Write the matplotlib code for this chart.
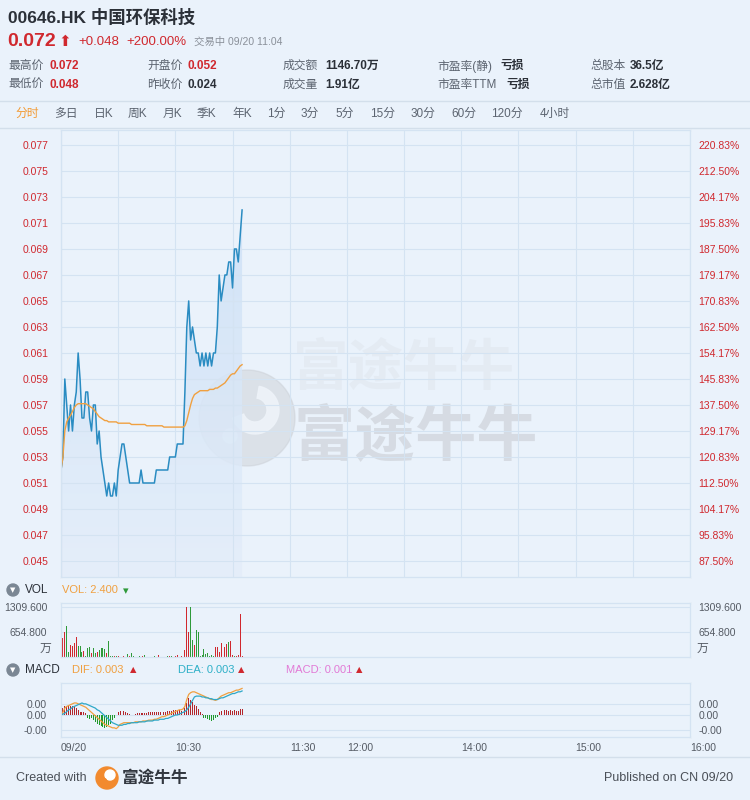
import numpy as np
import matplotlib
matplotlib.use('Agg')
import matplotlib.pyplot as plt
from matplotlib.colors import LinearSegmentedColormap
from matplotlib.patches import Circle, Wedge
from matplotlib.lines import Line2D

plt.rcParams['font.family'] = ['Liberation Sans', 'Noto Sans CJK SC', 'DejaVu Sans']

# ---- data (one value per trading minute from 09:30) ----
prev_close = 0.024

price = [0.052, 0.053, 0.059, 0.057, 0.055, 0.057, 0.055, 0.057, 0.058, 0.061,
         0.059, 0.056, 0.056, 0.058, 0.058, 0.056, 0.055, 0.057, 0.057, 0.054,
         0.055, 0.053, 0.052, 0.051, 0.050, 0.051, 0.050, 0.050, 0.051, 0.050,
         0.052, 0.053, 0.054, 0.054, 0.053, 0.052, 0.051, 0.051, 0.051, 0.051,
         0.051, 0.051, 0.052, 0.051, 0.051, 0.051, 0.051, 0.051, 0.051, 0.051,
         0.052, 0.052, 0.052, 0.052, 0.052, 0.052, 0.052, 0.053, 0.053, 0.053,
         0.053, 0.054, 0.054, 0.054, 0.054, 0.058, 0.063, 0.065, 0.062, 0.063,
         0.062, 0.061, 0.061, 0.060, 0.061, 0.060, 0.061, 0.060, 0.061, 0.060,
         0.061, 0.061, 0.063, 0.067, 0.065, 0.066, 0.067, 0.067, 0.068, 0.068,
         0.066, 0.069, 0.069, 0.068, 0.070, 0.072]

avg_price = [0.0520, 0.0530, 0.0550, 0.0557, 0.0560, 0.0562, 0.0565, 0.0568, 0.0570, 0.0571,
             0.0571, 0.0571, 0.0571, 0.0571, 0.0570, 0.0569, 0.0568, 0.0567, 0.0565, 0.0563,
             0.0561, 0.0560, 0.0559, 0.0558, 0.0558, 0.0557, 0.0557, 0.0557, 0.0557, 0.0557,
             0.0556, 0.0556, 0.0556, 0.0556, 0.0556, 0.0556, 0.0556, 0.0555, 0.0555, 0.0555,
             0.0555, 0.0555, 0.0555, 0.0555, 0.0555, 0.0554, 0.0554, 0.0554, 0.0554, 0.0554,
             0.0554, 0.0554, 0.0554, 0.0554, 0.0553, 0.0553, 0.0553, 0.0553, 0.0553, 0.0553,
             0.0553, 0.0553, 0.0553, 0.0553, 0.0553, 0.0554, 0.0558, 0.0564, 0.0570, 0.0575,
             0.0578, 0.0579, 0.0580, 0.0581, 0.0581, 0.0581, 0.0581, 0.0581, 0.0582, 0.0582,
             0.0582, 0.0583, 0.0583, 0.0584, 0.0585, 0.0586, 0.0587, 0.0589, 0.0591, 0.0593,
             0.0594, 0.0594, 0.0596, 0.0598, 0.0600, 0.0601]

# volume in 万
volume = [200, 490, 663, 812, 140, 314, 300, 358, 515, 288,
          288, 140, 166, 20, 227, 270, 96, 227, 113, 140,
          183, 227, 227, 200, 96, 419, 30, 25, 20, 30,
          15, 10, 20, 15, 10, 70, 15, 100, 20, 10,
          10, 20, 10, 15, 40, 10, 5, 10, 5, 15,
          10, 60, 10, 5, 10, 5, 15, 30, 20, 10,
          15, 40, 10, 20, 60, 183, 1300, 663, 1309.6, 445,
          314, 707, 663, 30, 40, 200, 80, 100, 20, 60,
          30, 270, 270, 140, 358, 428, 270, 340, 400, 428,
          40, 20, 30, 40, 1126, 30]
vol_dir = list("rrrggrrrrg" "ggrgggrggr" "ggggrgggrg" "rrrrggrggg" "rgrrggrgrg"
               "grrgrrgrgr" "rrgrrrrrgg" "rggggggggg" "grrrrgrrgr" "rgrrrr")

dif = [0.0000, 0.0003, 0.0008, 0.0010, 0.0011, 0.0012, 0.0013, 0.0014, 0.0014, 0.0013,
       0.0012, 0.0011, 0.0010, 0.0009, 0.0007, 0.0005, 0.0003, 0.0001, -0.0001, -0.0003,
       -0.0005, -0.0007, -0.0009, -0.0011, -0.0012, -0.0013, -0.0014, -0.0015, -0.0015, -0.0016,
       -0.0014, -0.0011, -0.0010, -0.0009, -0.0009, -0.0009, -0.0009, -0.0009, -0.0009, -0.0008,
       -0.0008, -0.0008, -0.0008, -0.0007, -0.0007, -0.0007, -0.0006, -0.0006, -0.0006, -0.0005,
       -0.0005, -0.0004, -0.0003, -0.0002, -0.0002, -0.0001, 0.0000, 0.0001, 0.0002, 0.0003,
       0.0004, 0.0005, 0.0006, 0.0006, 0.0007, 0.0010, 0.0018, 0.0024, 0.0026, 0.0027,
       0.0027, 0.0026, 0.0025, 0.0024, 0.0023, 0.0022, 0.0021, 0.0020, 0.0019, 0.0018,
       0.0018, 0.0017, 0.0018, 0.0020, 0.0022, 0.0023, 0.0024, 0.0025, 0.0026, 0.0026,
       0.0027, 0.0028, 0.0029, 0.0029, 0.0030, 0.0031]

dea = [0.0000, 0.0001, 0.0002, 0.0004, 0.0006, 0.0007, 0.0009, 0.0010, 0.0011, 0.0012,
       0.0013, 0.0014, 0.0013, 0.0013, 0.0012, 0.0011, 0.0010, 0.0009, 0.0008, 0.0006,
       0.0005, 0.0003, 0.0001, -0.0001, -0.0003, -0.0005, -0.0007, -0.0009, -0.0010, -0.0011,
       -0.0012, -0.0012, -0.0012, -0.0011, -0.0011, -0.0010, -0.0010, -0.0009, -0.0009, -0.0009,
       -0.0009, -0.0008, -0.0008, -0.0008, -0.0008, -0.0007, -0.0007, -0.0007, -0.0007, -0.0006,
       -0.0006, -0.0006, -0.0005, -0.0005, -0.0005, -0.0004, -0.0004, -0.0003, -0.0002, -0.0001,
       0.0000, 0.0000, 0.0001, 0.0002, 0.0003, 0.0004, 0.0006, 0.0009, 0.0013, 0.0017,
       0.0021, 0.0022, 0.0022, 0.0022, 0.0021, 0.0021, 0.0020, 0.0020, 0.0019, 0.0019,
       0.0018, 0.0018, 0.0018, 0.0019, 0.0020, 0.0020, 0.0021, 0.0022, 0.0023, 0.0024,
       0.0025, 0.0025, 0.0026, 0.0027, 0.0027, 0.0028]

macd_hist = [0.0002, 0.0008, 0.0011, 0.0011, 0.0010, 0.0010, 0.0011, 0.0011, 0.0008, 0.0006,
             0.0004, 0.0003, 0.0004, 0.0002, -0.0004, -0.0005, -0.0004, -0.0006, -0.0008, -0.0010,
             -0.0012, -0.0013, -0.0014, -0.0015, -0.0014, -0.0012, -0.0010, -0.0006, -0.0003, 0.0000,
             0.0003, 0.0005, 0.0006, 0.0005, 0.0004, 0.0002, 0.0001, 0.0000, 0.0000, 0.0001,
             0.0002, 0.0002, 0.0002, 0.0002, 0.0002, 0.0002, 0.0003, 0.0003, 0.0003, 0.0003,
             0.0003, 0.0003, 0.0004, 0.0004, 0.0004, 0.0004, 0.0005, 0.0005, 0.0005, 0.0006,
             0.0006, 0.0006, 0.0006, 0.0005, 0.0006, 0.0008, 0.0014, 0.0020, 0.0017, 0.0015,
             0.0012, 0.0010, 0.0007, 0.0004, 0.0001, -0.0003, -0.0004, -0.0005, -0.0006, -0.0007,
             -0.0006, -0.0004, -0.0002, 0.0003, 0.0005, 0.0006, 0.0006, 0.0006, 0.0005, 0.0006,
             0.0005, 0.0006, 0.0005, 0.0005, 0.0007, 0.0007]

price_ticks = [0.077, 0.075, 0.073, 0.071, 0.069, 0.067, 0.065, 0.063, 0.061,
               0.059, 0.057, 0.055, 0.053, 0.051, 0.049, 0.047, 0.045]
vol_ticks = [654.8, 1309.6]
macd_ticks = [0.0013, 0.0, -0.0018]
time_ticks = [0, 60, 120, 150, 210, 270, 330]
time_labels = ['09/20', '10:30', '11:30', '12:00', '14:00', '15:00', '16:00']
tabs = ['分时', '多日', '日K', '周K', '月K', '季K', '年K', '1分', '3分', '5分',
        '15分', '30分', '60分', '120分', '4小时']

# ---- style ----
BG = '#eaf2fb'
GRID = '#d4e3f2'
RED = '#d0282e'
GREEN = '#2f9a3a'
DARK = '#2b3038'
GREY = '#5c6470'
WM = '#c9cdd3'
W, H = 750, 800

fig = plt.figure(figsize=(7.5, 8), dpi=100)
fig.patch.set_facecolor(BG)


def px_ax(x0, y0, x1, y1):
    a = fig.add_axes([x0 / W, 1 - y1 / H, (x1 - x0) / W, (y1 - y0) / H])
    a.set_facecolor('none')
    for s in a.spines.values():
        s.set_color(GRID)
    return a


def txt(x, y, s, **kw):
    kw.setdefault('va', 'center')
    return fig.text(x / W, 1 - y / H, s, **kw)


def hline(y, x0=0, x1=W, color='#d3dfeb'):
    fig.add_artist(Line2D([x0 / W, x1 / W], [1 - y / H] * 2, color=color, lw=1,
                          transform=fig.transFigure))


def circ(x, y, r, **kw):
    fig.add_artist(Circle((x / 100, (H - y) / 100), r / 100,
                          transform=fig.dpi_scale_trans, **kw))


# ---- header ----
txt(8, 17, '00646.HK 中国环保科技', fontsize=12.5, fontweight='bold', color=DARK)
txt(7, 42, '0.072', fontsize=14, fontweight='bold', color=RED)
txt(58, 42, '⬆', fontsize=11, color=RED, family=['DejaVu Sans'])
txt(78, 42, '+0.048', fontsize=9.5, color=RED)
txt(126, 42, '+200.00%', fontsize=9.5, color=RED)
txt(194, 42, '交易中 09/20 11:04', fontsize=7.5, color='#8a9099')

rows = [
    (8, 50, '最高价', '0.072', RED, 66), (8, 50, '最低价', '0.048', RED, 85),
    (147, 187, '开盘价', '0.052', RED, 66), (147, 187, '昨收价', '0.024', DARK, 85),
    (283, 325, '成交额', '1146.70万', DARK, 66), (283, 325, '成交量', '1.91亿', DARK, 85),
    (437, 500, '市盈率(静)', '亏损', DARK, 66), (437, 506, '市盈率TTM', '亏损', DARK, 85),
    (590, 630, '总股本', '36.5亿', DARK, 66), (590, 630, '总市值', '2.628亿', DARK, 85),
]
for xl, xv, lab, val, col, y in rows:
    txt(xl, y, lab, fontsize=8.5, color=GREY)
    txt(xv, y, val, fontsize=8.5, fontweight='bold', color=col)

hline(101)
hline(128)
tab_x = [15, 54, 94, 128, 163, 197, 232, 267, 301, 335, 370, 411, 451, 491, 540]
for i, (tx, t) in enumerate(zip(tab_x, tabs)):
    txt(tx, 114, t, fontsize=8.5, color='#f39a33' if i == 0 else GREY)

# ---- watermark ----
circ(247, 418, 48, color=WM, alpha=0.45, zorder=-2)
fig.add_artist(Wedge((255 / 100, (H - 410) / 100), 24 / 100, 200, 80, width=12 / 100,
                     transform=fig.dpi_scale_trans, color='#eef3f9', alpha=0.9, zorder=-2))
circ(230, 436, 7, color='#eef3f9', alpha=0.9, zorder=-2)
txt(293, 370, '富途牛牛', fontsize=40, color=WM, alpha=0.18,
    fontweight='bold', zorder=-2)
txt(293, 440, '富途牛牛', fontsize=44, color=WM, alpha=0.6,
    fontweight='bold', zorder=-2)

# ---- price panel ----
minutes = np.arange(len(price))
ylo, yhi = 0.04377, 0.07815
ax = px_ax(61, 130, 690, 577)
poly = ax.fill_between(minutes, price, ylo, color='none')
grad = np.linspace(1, 0, 256).reshape(-1, 1)
cmap = LinearSegmentedColormap.from_list('fill', ['#e4eefa', '#c9def6'])
im = ax.imshow(grad, extent=[0, minutes[-1], ylo, yhi], aspect='auto',
               cmap=cmap, alpha=0.85, zorder=1)
im.set_clip_path(poly.get_paths()[0], transform=ax.transData)
ax.plot(minutes, price, color='#2a8cc2', lw=1.1, zorder=3)
ax.plot(minutes, avg_price, color='#f0a040', lw=1.0, zorder=3)
ax.set_xlim(0, 330)
ax.set_ylim(ylo, yhi)
ax.set_xticks(np.arange(0, 331, 30))
ax.set_xticklabels([])
ax.set_yticks(price_ticks)
ax.set_yticklabels([f'{t:.3f}' for t in price_ticks], color=RED, fontsize=7.5)
ax.tick_params(length=0, pad=9)
ax.grid(color=GRID, lw=0.8, zorder=0)
ax.spines['left'].set_color('#c6d8ec')

ax2 = ax.twinx()
ax2.set_ylim(ylo, yhi)
ax2.set_yticks(price_ticks)
ax2.set_yticklabels([f'{(t / prev_close - 1) * 100:.2f}%' for t in price_ticks],
                    color=RED, fontsize=7.5)
ax2.tick_params(length=0, pad=6)
for s in ax2.spines.values():
    s.set_color(GRID)

# ---- volume panel ----
circ(13, 590, 6, color='#7b8794')
txt(13, 590.5, '▼', fontsize=5, color='white', ha='center', family=['DejaVu Sans'])
txt(25, 590, 'VOL', fontsize=8.5, color=DARK)
txt(62, 590, 'VOL: 2.400', fontsize=8, color='#f0a040')
txt(123, 591, '▾', fontsize=8, color=GREEN, family=['DejaVu Sans'])

vcol = [RED if d == 'r' else GREEN for d in vol_dir]
axv = px_ax(61, 603, 690, 657)
axv.bar(minutes, volume, width=0.5, color=vcol, zorder=2)
axv.set_xlim(0, 330)
axv.set_ylim(0, 1414)
axv.set_xticks([])
axv.set_yticks(vol_ticks)
axv.set_yticklabels([f'{v:.3f}' for v in vol_ticks], fontsize=7.5, color='#555b64')
axv.tick_params(length=0, pad=10)
axv.grid(axis='y', color=GRID, lw=0.8, zorder=0)
axv2 = axv.twinx()
axv2.set_ylim(0, 1414)
axv2.set_yticks(vol_ticks)
axv2.set_yticklabels([f'{v:.3f}' for v in vol_ticks], fontsize=7.5, color='#555b64')
axv2.tick_params(length=0, pad=6)
for s in axv2.spines.values():
    s.set_color(GRID)
txt(51, 649, '万', fontsize=8.5, color='#555b64', ha='right')
txt(697, 649, '万', fontsize=8.5, color='#555b64')

# ---- MACD panel ----
circ(13, 670, 6, color='#7b8794')
txt(13, 670.5, '▼', fontsize=5, color='white', ha='center', family=['DejaVu Sans'])
txt(25, 670, 'MACD', fontsize=8.5, color=DARK)
txt(72, 670, 'DIF: 0.003', fontsize=8, color='#f0a040')
txt(130, 670, '▲', fontsize=6, color=RED, family=['DejaVu Sans'])
txt(178, 670, 'DEA: 0.003', fontsize=8, color='#2fb0c8')
txt(238, 670, '▲', fontsize=6, color=RED, family=['DejaVu Sans'])
txt(286, 670, 'MACD: 0.001', fontsize=8, color='#e27ad6')
txt(356, 670, '▲', fontsize=6, color=RED, family=['DejaVu Sans'])

hcol = ['#b3262c' if h >= 0 else '#1f9a2a' for h in macd_hist]
axm = px_ax(61, 683, 690, 737)
axm.bar(minutes, macd_hist, width=0.5, color=hcol, zorder=2)
axm.plot(minutes, dif, color='#f0a040', lw=0.9, zorder=3)
axm.plot(minutes, dea, color='#2fa8c8', lw=0.9, zorder=3)
axm.set_xlim(0, 330)
axm.set_ylim(-0.00257, 0.00373)
axm.set_yticks(macd_ticks)
axm.set_yticklabels([f'{v:.2f}' for v in macd_ticks], fontsize=7.5, color='#555b64')
axm.set_xticks(time_ticks)
axm.set_xticklabels(time_labels, fontsize=7.5, color='#555b64', ha='left')
axm.tick_params(length=0)
axm.tick_params(axis='y', pad=10)
axm.tick_params(axis='x', pad=4)
axm.grid(axis='y', color=GRID, lw=0.8, zorder=0)
axm2 = axm.twinx()
axm2.set_ylim(-0.00257, 0.00373)
axm2.set_yticks(macd_ticks)
axm2.set_yticklabels([f'{v:.2f}' for v in macd_ticks], fontsize=7.5, color='#555b64')
axm2.tick_params(length=0, pad=6)
for s in axm2.spines.values():
    s.set_color(GRID)

# ---- footer ----
hline(757)
txt(16, 778, 'Created with', fontsize=9, color='#4a4f57')
circ(107, 778, 11, color='#f28a2e')
circ(110, 775, 5, color='white')
circ(104, 781, 2.5, color='#f28a2e')
txt(122, 778, '富途牛牛', fontsize=12, fontweight='bold', color='#333840')
txt(733, 778, 'Published on CN 09/20', fontsize=9, color='#4a4f57', ha='right')

fig.savefig('out.png', dpi=100, facecolor=BG)
